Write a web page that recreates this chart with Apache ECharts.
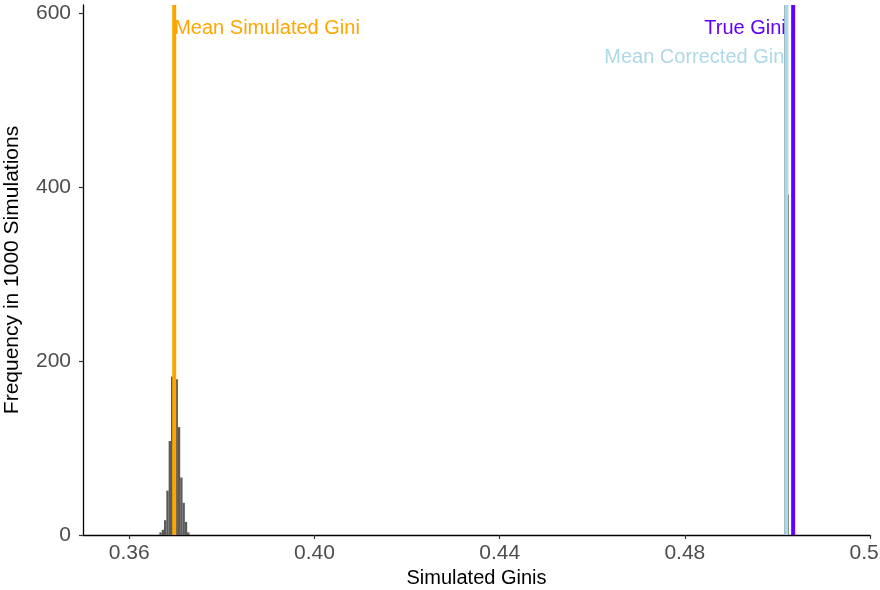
<!DOCTYPE html>
<html><head><meta charset="utf-8">
<script src="https://cdn.jsdelivr.net/npm/echarts@6/dist/echarts.min.js"></script>
<style>html,body{margin:0;padding:0;background:#fff}#c{width:880px;height:590px}</style>
</head><body><div id="c"></div>
<script>
// ---- data ----
const binWidth = 0.0005;
const binStarts = [0.3665, 0.3670, 0.3675, 0.3680, 0.3685, 0.3690, 0.3695, 0.3700, 0.3705, 0.3710, 0.3715, 0.3720, 0.3725, 0.5015, 0.5020];
const binCounts = [3, 6, 17, 51, 108, 182, 222, 179, 124, 66, 37, 15, 3, 609, 391];
const xTicks = [0.36, 0.40, 0.44, 0.48, 0.52];
const yTicks = [0, 200, 400, 600];
const vlineValues = [0.3697, 0.50195, 0.5034];
const vlineColors = ['#FFA500', '#ADD8E6', '#6200FF'];
const labelTexts = ['Mean Simulated Gini', 'True Gini', 'Mean Corrected Gini'];
const labelX = [0.3697, 0.5018, 0.50245];
const labelY = [581.5, 581.5, 549];
const labelAlign = ['left', 'right', 'right'];
const labelColors = ['#FFA500', '#6200FF', '#ADD8E6'];
const xRange = [0.35, 0.52];
const yRange = [0, 609];

const FONT = '"Liberation Sans", Arial, sans-serif';
const chart = echarts.init(document.getElementById('c'));
chart.setOption({
  animation: false,
  backgroundColor: '#fff',
  grid: {left: 83, right: 10, top: 5, bottom: 55, containLabel: false, outerBoundsMode: 'none'},
  xAxis: {
    type: 'value', min: xRange[0], max: xRange[1],
    splitLine: {show: false},
    axisLine: {onZero: false, lineStyle: {color: '#000', width: 1.3}},
    axisTick: {customValues: xTicks, length: 4, lineStyle: {color: '#333', width: 1.2}},
    axisLabel: {customValues: xTicks, formatter: v => v.toFixed(2), color: '#4D4D4D', fontSize: 21, margin: 8, fontFamily: FONT},
    name: 'Simulated Ginis', nameLocation: 'middle', nameGap: 33,
    nameTextStyle: {color: '#000', fontSize: 20, fontFamily: FONT}
  },
  yAxis: {
    type: 'value', min: yRange[0], max: yRange[1],
    splitLine: {show: false},
    axisLine: {onZero: false, lineStyle: {color: '#000', width: 1.3}},
    axisTick: {customValues: yTicks, length: 4, lineStyle: {color: '#333', width: 1.2}},
    axisLabel: {customValues: yTicks, color: '#4D4D4D', fontSize: 21, margin: 12, fontFamily: FONT},
    name: 'Frequency in 1000 Simulations', nameLocation: 'middle', nameGap: 60,
    nameTextStyle: {color: '#000', fontSize: 21, fontFamily: FONT}
  },
  series: [
    {
      type: 'custom', z: 2,
      encode: {x: [0, 1], y: 2},
      data: binStarts.map((s, i) => [s, s + binWidth, binCounts[i]]),
      renderItem: function (params, api) {
        const p0 = api.coord([api.value(0), api.value(2)]);
        const p1 = api.coord([api.value(1), 0]);
        return {type: 'rect', shape: {x: p0[0], y: p0[1], width: p1[0] - p0[0], height: p1[1] - p0[1]}, style: {fill: '#595959'}};
      }
    },
    {
      type: 'custom', z: 3,
      encode: {x: 0, y: 1},
      data: labelX.map((x, i) => [x, labelY[i], i]),
      renderItem: function (params, api) {
        const i = api.value(2);
        const p = api.coord([api.value(0), api.value(1)]);
        return {type: 'text', x: p[0], y: p[1], style: {text: labelTexts[i], fill: labelColors[i], font: '20px ' + FONT, align: labelAlign[i], verticalAlign: 'middle'}};
      }
    },
    {
      type: 'custom', z: 4,
      encode: {x: 0, y: 1},
      data: vlineValues.map((v, i) => [v, 0, i]),
      renderItem: function (params, api) {
        const i = api.value(2);
        const top = api.coord([api.value(0), yRange[1]]);
        const bot = api.coord([api.value(0), yRange[0]]);
        return {type: 'line', shape: {x1: top[0], y1: top[1], x2: bot[0], y2: bot[1]}, style: {stroke: vlineColors[i], lineWidth: 4}};
      }
    }
  ]
});
</script></body></html>
